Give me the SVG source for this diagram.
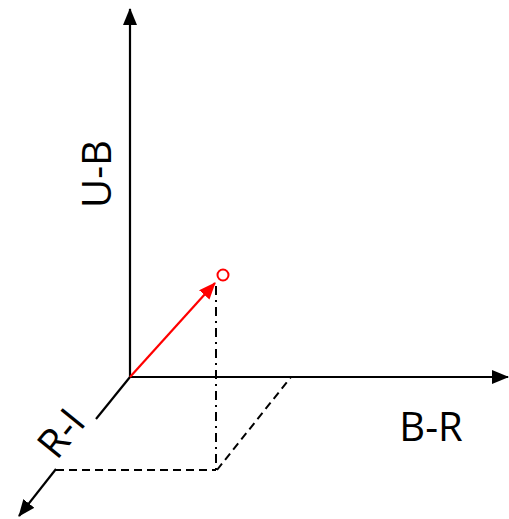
<svg xmlns="http://www.w3.org/2000/svg" width="509" height="519" viewBox="0 0 509 519">
<style>
.ax{stroke:#000;stroke-width:2.2;fill:none}
.dash{stroke:#000;stroke-width:2;fill:none;stroke-dasharray:8 5}
.dd{stroke:#000;stroke-width:2;fill:none;stroke-dasharray:9 5 2 5}
.lbl{font-family:"Open Sans","Liberation Sans",Arial,sans-serif;font-size:40px;fill:#000}
</style>
<defs>
<marker id="ab" viewBox="0 0 17 14" refX="16" refY="7" markerWidth="17" markerHeight="14" markerUnits="userSpaceOnUse" orient="auto"><path d="M0,0 L17,7 L0,14 Z" fill="#000"/></marker>
<marker id="ar" viewBox="0 0 17 14" refX="16" refY="7" markerWidth="17" markerHeight="14" markerUnits="userSpaceOnUse" orient="auto"><path d="M0,0 L17,7 L0,14 Z" fill="#f00"/></marker>
</defs>
<g id="connectors">
<line class="ax" x1="130" y1="377" x2="130" y2="9" marker-end="url(#ab)"/>
<line class="ax" x1="130" y1="377" x2="508" y2="377" marker-end="url(#ab)"/>
<line class="ax" x1="130" y1="377" x2="96" y2="419"/>
<line class="ax" x1="56" y1="469" x2="19" y2="516" marker-end="url(#ab)"/>
<line x1="130" y1="377" x2="215" y2="283" stroke="#f00" stroke-width="2.2" marker-end="url(#ar)"/>
<line class="dd" x1="216" y1="286" x2="216" y2="470"/>
<line class="dash" x1="56" y1="470" x2="216" y2="470"/>
<line class="dash" x1="217" y1="470" x2="291" y2="377"/>
</g>
<g id="point"><circle cx="223" cy="275" r="5.5" fill="#fff" stroke="#f00" stroke-width="2"/></g>
<g id="label-ub"><text class="lbl" text-anchor="middle" transform="translate(111,174) rotate(-90)">U-B</text></g>
<g id="label-br"><text class="lbl" x="431" y="441" text-anchor="middle">B-R</text></g>
<g id="label-ri"><text class="lbl" text-anchor="middle" transform="translate(72,442) rotate(-51)">R-I</text></g>
</svg>
